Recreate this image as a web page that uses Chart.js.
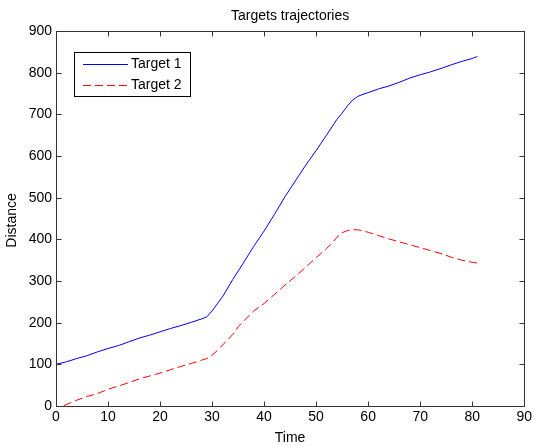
<!DOCTYPE html>
<html>
<head>
<meta charset="utf-8">
<title>Targets trajectories</title>
<script src="https://cdn.jsdelivr.net/npm/chart.js@4.4.1/dist/chart.umd.min.js"></script>
<style>
  html, body { margin: 0; padding: 0; background: #fff; }
  #wrap { width: 535px; height: 446px; position: relative; }
</style>
</head>
<body>
<div id="wrap"><canvas id="c" width="535" height="446"></canvas></div>
<script>
// Trajectory samples: time (s) and distance for each target
const time1 = [0, 2, 4, 6, 8, 10, 12, 14, 16, 18, 20, 22, 24, 26, 28, 29, 30, 31, 32, 34, 36, 38, 40, 42, 44, 46, 48, 50, 52, 54, 55, 56, 57, 58, 59, 60, 62, 64, 66, 68, 70, 72, 74, 76, 78, 80, 81];
const target1 = [100, 106, 114, 121, 130, 138, 145, 154, 163, 170, 178, 186, 193, 201, 209, 214, 228, 245, 262, 304, 343, 383, 420, 460, 502, 540, 578, 613, 650, 688, 703, 720, 734, 743, 748, 752, 761, 768, 777, 787, 795, 802, 810, 819, 827, 834, 839];

const time2 = [1.5, 4, 6, 8, 10, 12, 14, 16, 18, 20, 22, 24, 26, 28, 29, 30, 31, 32, 34, 35, 36, 38, 40, 42, 44, 46, 48, 50, 52, 53, 54, 55, 56, 57, 58, 59, 60, 62, 64, 66, 68, 70, 72, 74, 76, 78, 80, 81];
const target2 = [1, 14, 23, 30, 40, 48, 56, 65, 72, 79, 87, 95, 102, 110, 114, 122, 133, 146, 172, 190, 203, 228, 246, 268, 290, 311, 333, 356, 378, 390, 405, 416, 421, 423, 423, 420, 417, 409, 401, 394, 387, 380, 373, 366, 357, 350, 345, 343];

const seriesNames = ['Target 1', 'Target 2'];
const xTicks = [0, 10, 20, 30, 40, 50, 60, 70, 80, 90];
const yTicks = [0, 100, 200, 300, 400, 500, 600, 700, 800, 900];

const titleText = 'Targets trajectories';
const xTitle = 'Time';
const yTitle = 'Distance';

const FONT = '"Liberation Sans", Arial, Helvetica, sans-serif';
const FONT_SIZE = 14;
const AXIS_COLOR = '#333';

const toPoints = (xs, ys) => xs.map((x, i) => ({ x: x, y: ys[i] }));

// Box frame, inward tick marks on all four sides, titles and boxed legend
const framePlugin = {
  id: 'frame',
  afterDraw(chart) {
    const { ctx, chartArea: a, scales } = chart;
    const xs = scales.x, ys = scales.y;
    const L = Math.round(a.left) + 0.5, R = Math.round(a.right) + 0.5;
    const T = Math.round(a.top) + 0.5, B = Math.round(a.bottom) + 0.5;
    const tl = 5;
    ctx.save();
    ctx.strokeStyle = AXIS_COLOR;
    ctx.lineWidth = 1;
    ctx.setLineDash([]);
    ctx.strokeRect(L, T, R - L, B - T);
    ctx.beginPath();
    xTicks.forEach(v => {
      const px = Math.round(xs.getPixelForValue(v)) + 0.5;
      ctx.moveTo(px, B); ctx.lineTo(px, B - tl);
      ctx.moveTo(px, T); ctx.lineTo(px, T + tl);
    });
    yTicks.forEach(v => {
      const py = Math.round(ys.getPixelForValue(v)) + 0.5;
      ctx.moveTo(L, py); ctx.lineTo(L + tl, py);
      ctx.moveTo(R, py); ctx.lineTo(R - tl, py);
    });
    ctx.stroke();

    // titles
    ctx.fillStyle = '#000';
    ctx.font = FONT_SIZE + 'px ' + FONT;
    ctx.textAlign = 'center';
    ctx.textBaseline = 'middle';
    const cx = (a.left + a.right) / 2;
    ctx.fillText(titleText, cx, 16);
    ctx.fillText(xTitle, cx, 438);
    ctx.save();
    ctx.translate(12, (a.top + a.bottom) / 2 + 2);
    ctx.rotate(-Math.PI / 2);
    ctx.fillText(yTitle, 0, 0);
    ctx.restore();

    // legend box
    const bx = 74.5, by = 52.5, bw = 116, bh = 44;
    ctx.fillStyle = '#fff';
    ctx.fillRect(bx, by, bw, bh);
    ctx.strokeStyle = '#000';
    ctx.strokeRect(bx, by, bw, bh);
    const rows = [64.5, 85.5];
    chart.data.datasets.forEach((ds, i) => {
      ctx.strokeStyle = ds.borderColor;
      ctx.lineWidth = 1;
      ctx.setLineDash(ds.borderDash || []);
      ctx.beginPath();
      ctx.moveTo(83, rows[i]);
      ctx.lineTo(128, rows[i]);
      ctx.stroke();
      ctx.setLineDash([]);
      ctx.fillStyle = '#000';
      ctx.textAlign = 'left';
      ctx.textBaseline = 'middle';
      ctx.fillText(ds.label, 131, rows[i]);
    });
    ctx.restore();
  }
};

new Chart(document.getElementById('c'), {
  type: 'line',
  data: {
    datasets: [
      {
        label: seriesNames[0],
        data: toPoints(time1, target1),
        borderColor: '#0000ff',
        borderWidth: 1,
        pointRadius: 0,
        tension: 0,
        fill: false
      },
      {
        label: seriesNames[1],
        data: toPoints(time2, target2),
        borderColor: '#ff0000',
        borderWidth: 1,
        borderDash: [8, 4],
        pointRadius: 0,
        tension: 0,
        fill: false
      }
    ]
  },
  options: {
    responsive: false,
    animation: false,
    layout: { padding: { top: 31, right: 9, left: 0, bottom: 0 } },
    plugins: {
      legend: { display: false },
      title: { display: false },
      tooltip: { enabled: false }
    },
    scales: {
      x: {
        type: 'linear',
        min: 0,
        max: 90,
        afterBuildTicks(scale) { scale.ticks = xTicks.map(v => ({ value: v })); },
        afterFit(scale) { scale.height = 40; },
        grid: { display: true, drawOnChartArea: false, drawTicks: false },
        border: { display: false },
        ticks: { padding: 3, color: '#000', font: { family: FONT, size: FONT_SIZE }, maxRotation: 0 }
      },
      y: {
        type: 'linear',
        min: 0,
        max: 900,
        afterBuildTicks(scale) { scale.ticks = yTicks.map(v => ({ value: v })); },
        afterFit(scale) { scale.width = 56; },
        grid: { display: true, drawOnChartArea: false, drawTicks: false },
        border: { display: false },
        ticks: { padding: 4, color: '#000', font: { family: FONT, size: FONT_SIZE } }
      }
    }
  },
  plugins: [framePlugin]
});
</script>
</body>
</html>
